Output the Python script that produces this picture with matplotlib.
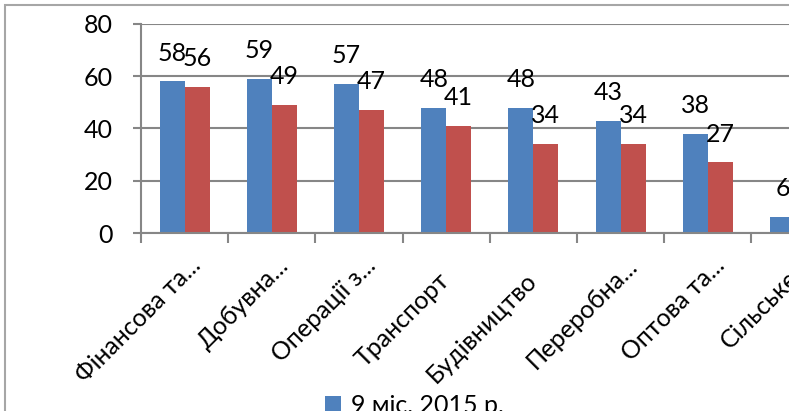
import matplotlib
matplotlib.use("Agg")
import numpy as np
import matplotlib.pyplot as plt
from matplotlib.patches import Rectangle
from matplotlib.transforms import ScaledTranslation

plt.rcParams['font.family'] = ['Lato', 'DejaVu Sans']

categories = ['Фінансова та...', 'Добувна...', 'Операції з...', 'Транспорт',
              'Будівництво', 'Переробна...', 'Оптова та...', 'Сільське...']
series_2015 = [58, 59, 57, 48, 48, 43, 38, 6]
series_2016 = [56, 49, 47, 41, 34, 34, 27, 4]
series_names = ['9 міс. 2015 р.', '9 міс. 2016 р.']
yticks = [0, 20, 40, 60, 80]

W, H = 789, 411
fig = plt.figure(figsize=(W / 100, H / 100), dpi=100)

# plot area runs past the right edge, like the cropped original
left, bottom, top = 141, 233, 24
cat_w = 87.2
ax = fig.add_axes([left / W, (H - bottom) / H, len(categories) * cat_w / W, (bottom - top) / H])

x = np.arange(len(categories))
bw = 0.2857
b1 = ax.bar(x - bw / 2, series_2015, bw, color='#4F81BD', label=series_names[0])
b2 = ax.bar(x + bw / 2, series_2016, bw, color='#C0504D', label=series_names[1])

fs = 18
for bars, vals in ((b1, series_2015), (b2, series_2016)):
    for r, v in zip(bars, vals):
        ax.annotate(str(v), (r.get_x() + r.get_width() / 2, v), xytext=(0, 15),
                    textcoords='offset points', ha='center', va='baseline', fontsize=fs)

ax.set_xlim(-0.5, len(categories) - 0.5)
ax.set_ylim(0, 80)
ax.set_yticks(yticks)
ax.set_yticklabels([str(t) for t in yticks], fontsize=fs)
ax.set_xticks(np.arange(len(categories) + 1) - 0.5)
ax.set_xticklabels([])
ax.tick_params(axis='y', length=6, width=1.5, color='#868686', pad=14)
ax.tick_params(axis='x', length=7, width=1.5, color='#868686')
ax.yaxis.grid(True, color='#868686', lw=1.5)
ax.set_axisbelow(True)
for s in ('top', 'right'):
    ax.spines[s].set_visible(False)
for s in ('left', 'bottom'):
    ax.spines[s].set_color('#868686')
    ax.spines[s].set_linewidth(1.5)

# rotated category labels, end anchored under each category
for i, lab in enumerate(categories):
    if lab.endswith('...'):
        dx, dy = 18, 34
    else:
        dx, dy = 4.5, 49
    tr = ax.get_xaxis_transform() + ScaledTranslation(dx / 100, -dy / 100, fig.dpi_scale_trans)
    ax.text(i, 0, lab, transform=tr, rotation=45, rotation_mode='anchor',
            ha='right', va='baseline', fontsize=fs, clip_on=False)

fig.legend(handles=[b1, b2], labels=series_names, loc='upper left',
           bbox_to_anchor=(315 / W, 1 - 384 / H), frameon=False, fontsize=fs,
           handlelength=0.65, handleheight=0.65, handletextpad=0.4, borderaxespad=0)

fig.patches.append(Rectangle((5 / W, -0.2), 2, 1.2 - 5 / H, transform=fig.transFigure,
                             fill=False, edgecolor='#a6a6a6', lw=1.5))

fig.savefig('out.png', dpi=100)
